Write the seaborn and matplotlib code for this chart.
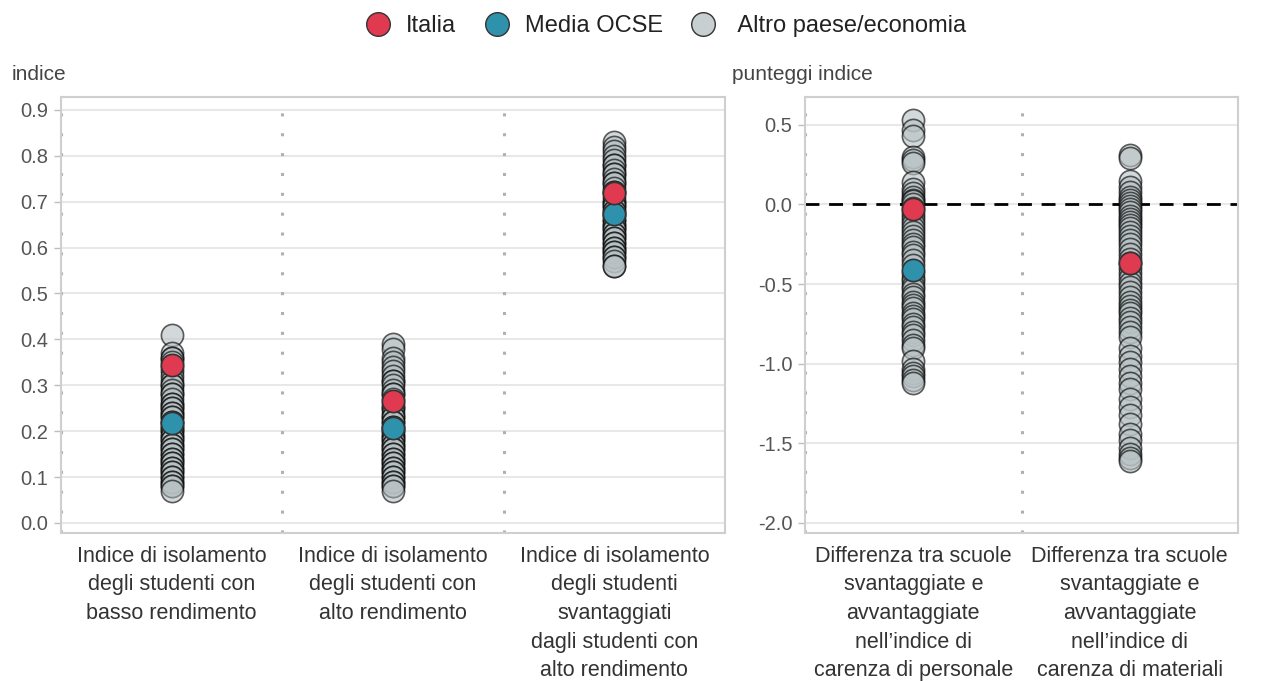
"""Isolamento degli studenti e carenza di risorse: Italia, media OCSE e altri paesi."""

import matplotlib.pyplot as plt
import pandas as pd
import seaborn as sns
from matplotlib.lines import Line2D
from matplotlib.ticker import FormatStrFormatter

sns.set_theme(style="whitegrid")
plt.rcParams["font.family"] = ["Liberation Sans", "DejaVu Sans"]
plt.rcParams["axes.unicode_minus"] = False

CAT_ISOLAMENTO = [
    "Indice di isolamento\ndegli studenti con\nbasso rendimento",
    "Indice di isolamento\ndegli studenti con\nalto rendimento",
    "Indice di isolamento\ndegli studenti\nsvantaggiati\ndagli studenti con\nalto rendimento",
]
CAT_CARENZA = [
    "Differenza tra scuole\nsvantaggiate e\navvantaggiate\nnell\u2019indice di\ncarenza di personale",
    "Differenza tra scuole\nsvantaggiate e\navvantaggiate\nnell\u2019indice di\ncarenza di materiali",
]

# altri paesi/economie, un valore per paese
ALTRI_BASSO = [0.41, 0.37, 0.36, 0.36, 0.35, 0.34, 0.33, 0.32, 0.31, 0.30, 0.30, 0.29,
               0.28, 0.28, 0.27, 0.26, 0.26, 0.25, 0.25, 0.24, 0.24, 0.23, 0.23, 0.22,
               0.22, 0.21, 0.21, 0.20, 0.20, 0.19, 0.19, 0.18, 0.18, 0.17, 0.17, 0.16,
               0.16, 0.15, 0.15, 0.14, 0.14, 0.13, 0.13, 0.12, 0.12, 0.11, 0.11, 0.10,
               0.10, 0.09, 0.09, 0.08, 0.08, 0.07]
ALTRI_ALTO = [0.39, 0.38, 0.36, 0.35, 0.34, 0.33, 0.32, 0.31, 0.31, 0.30, 0.29, 0.28,
              0.28, 0.27, 0.26, 0.25, 0.25, 0.24, 0.23, 0.23, 0.22, 0.22, 0.21, 0.21,
              0.20, 0.20, 0.19, 0.19, 0.18, 0.18, 0.17, 0.17, 0.16, 0.16, 0.15, 0.15,
              0.14, 0.14, 0.13, 0.13, 0.12, 0.12, 0.11, 0.11, 0.10, 0.10, 0.09, 0.09,
              0.08, 0.08, 0.07]
ALTRI_SVANT = [0.83, 0.82, 0.81, 0.80, 0.79, 0.78, 0.78, 0.77, 0.76, 0.76, 0.75, 0.74,
               0.74, 0.73, 0.72, 0.72, 0.71, 0.70, 0.70, 0.69, 0.69, 0.68, 0.68, 0.67,
               0.67, 0.66, 0.66, 0.65, 0.65, 0.64, 0.64, 0.63, 0.63, 0.62, 0.62, 0.61,
               0.61, 0.60, 0.60, 0.59, 0.59, 0.58, 0.58, 0.57, 0.56, 0.56]
ALTRI_PERSONALE = [0.53, 0.47, 0.43, 0.30, 0.28, 0.26, 0.14, 0.10, 0.07, 0.05, 0.03, 0.02,
                   0.0, -0.02, -0.05, -0.07, -0.10, -0.12, -0.15, -0.17, -0.20, -0.22,
                   -0.25, -0.27, -0.30, -0.32, -0.35, -0.38, -0.43, -0.46, -0.48, -0.51,
                   -0.53, -0.56, -0.58, -0.61, -0.63, -0.65, -0.68, -0.70, -0.72, -0.75,
                   -0.77, -0.80, -0.82, -0.85, -0.88, -0.90, -0.98, -1.03, -1.06, -1.08,
                   -1.10, -1.12]
ALTRI_MATERIALI = [0.31, 0.29, 0.15, 0.11, 0.08, 0.05, 0.03, 0.01, -0.01, -0.03, -0.05,
                   -0.07, -0.09, -0.11, -0.13, -0.15, -0.17, -0.20, -0.22, -0.25, -0.28,
                   -0.31, -0.34, -0.40, -0.43, -0.46, -0.49, -0.52, -0.55, -0.58, -0.61,
                   -0.64, -0.66, -0.68, -0.71, -0.74, -0.77, -0.80, -0.83, -0.90, -0.95,
                   -0.99, -1.03, -1.08, -1.12, -1.16, -1.22, -1.27, -1.32, -1.38, -1.44,
                   -1.48, -1.53, -1.57, -1.59, -1.61]

ITALIA_ISOLAMENTO = [0.344, 0.266, 0.719]
OCSE_ISOLAMENTO = [0.218, 0.207, 0.673]
ITALIA_CARENZA = [-0.03, -0.37]
OCSE_CARENZA = [-0.41, -0.37]

COL_ITALIA = "#e03a50"
COL_OCSE = "#2e92ad"
COL_ALTRI = "#b8c2c4"


def build_frame(cats, altri, italia, ocse):
    rows = []
    for cat, valori, ita, oc in zip(cats, altri, italia, ocse):
        rows += [{"indicatore": cat, "valore": v, "gruppo": "Altro"} for v in valori]
        rows.append({"indicatore": cat, "valore": oc, "gruppo": "OCSE"})
        rows.append({"indicatore": cat, "valore": ita, "gruppo": "Italia"})
    return pd.DataFrame(rows)


def draw_panel(ax, df, cats, ylim, yticks):
    styles = [
        ("Altro", dict(color=COL_ALTRI, edgecolor="#000000", alpha=0.62)),
        ("OCSE", dict(color=COL_OCSE, edgecolor="#333333", alpha=1)),
        ("Italia", dict(color=COL_ITALIA, edgecolor="#333333", alpha=1)),
    ]
    for gruppo, st in styles:
        sns.stripplot(
            data=df[df["gruppo"] == gruppo], x="indicatore", y="valore", order=cats,
            jitter=False, size=16, linewidth=1.2, ax=ax, zorder=3, **st,
        )
    for x in [i - 0.5 for i in range(len(cats))]:
        ax.axvline(x, color="#b0b0b0", lw=2.2, ls=(0, (1, 5.5)), zorder=1)
    ax.set_xlim(-0.5, len(cats) - 0.5)
    ax.set_ylim(*ylim)
    ax.set_yticks(yticks)
    ax.yaxis.set_major_formatter(FormatStrFormatter("%.1f"))
    ax.grid(axis="y", color="#e8e8e8", lw=1.5)
    ax.grid(axis="x", visible=False)
    ax.set_xlabel("")
    ax.set_ylabel("")
    ax.set_xticks(range(len(cats)))
    ax.set_xticklabels(cats, fontsize=15.5, color="#333333", linespacing=1.48)
    ax.tick_params(axis="x", length=0, pad=9)
    ax.tick_params(axis="y", left=True, length=5, width=1, color="#bdbdbd",
                   labelsize=14.5, labelcolor="#555555", pad=4)
    for sp in ax.spines.values():
        sp.set_visible(True)
        sp.set_color("#cfcfcf")
        sp.set_linewidth(1.5)


def main():
    W, H = 1276, 681
    fig = plt.figure(figsize=(W / 100, H / 100), dpi=100, facecolor="white")
    ax_l = fig.add_axes([61 / W, 148 / H, 664 / W, 436 / H])
    ax_r = fig.add_axes([805 / W, 148 / H, 433 / W, 436 / H])

    df_l = build_frame(CAT_ISOLAMENTO, [ALTRI_BASSO, ALTRI_ALTO, ALTRI_SVANT],
                       ITALIA_ISOLAMENTO, OCSE_ISOLAMENTO)
    df_r = build_frame(CAT_CARENZA, [ALTRI_PERSONALE, ALTRI_MATERIALI],
                       ITALIA_CARENZA, OCSE_CARENZA)

    draw_panel(ax_l, df_l, CAT_ISOLAMENTO, (-0.022, 0.928),
               [0.0, 0.1, 0.2, 0.3, 0.4, 0.5, 0.6, 0.7, 0.8, 0.9])
    draw_panel(ax_r, df_r, CAT_CARENZA, (-2.063, 0.675),
               [-2.0, -1.5, -1.0, -0.5, 0.0, 0.5])
    ax_r.axhline(0, color="black", lw=2, ls=(0, (5, 3.5)), zorder=2)

    fig.text(12 / W, 1 - 75 / H, "indice", fontsize=15, color="#444444", va="center")
    fig.text(732 / W, 1 - 75 / H, "punteggi indice", fontsize=15, color="#444444",
             va="center")

    handles = [
        Line2D([], [], ls="", marker="o", markersize=17, markerfacecolor=c,
               markeredgecolor="#333333", markeredgewidth=1)
        for c in [COL_ITALIA, COL_OCSE, "#c8cfd0"]
    ]
    fig.legend(handles, ["Italia", "Media OCSE", " Altro paese/economia"],
               loc="center", bbox_to_anchor=(0.5 + 22 / W, 1 - 26 / H), ncol=3,
               frameon=False, fontsize=17, handletextpad=0.2, columnspacing=0.7,
               labelcolor="#222222")

    fig.savefig("out.png", dpi=100)
    plt.close(fig)


if __name__ == "__main__":
    main()
